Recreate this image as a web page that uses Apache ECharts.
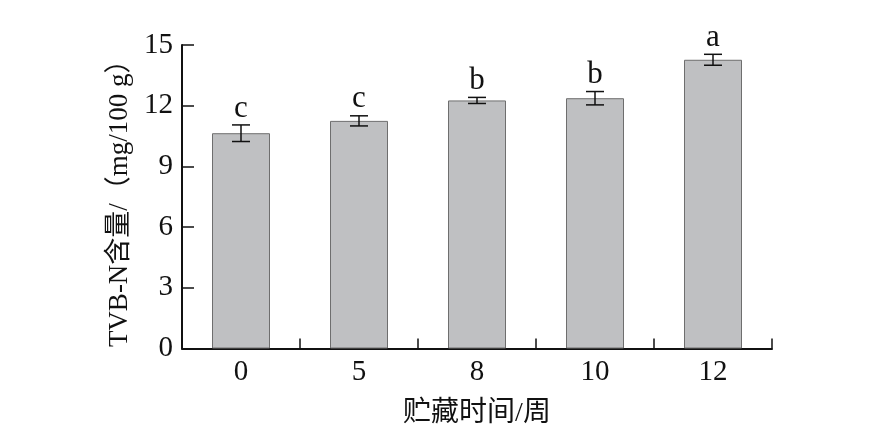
<!DOCTYPE html>
<html>
<head>
<meta charset="utf-8">
<script src="https://cdn.jsdelivr.net/npm/echarts@6/dist/echarts.min.js"></script>
<style>
html,body{margin:0;padding:0;background:#fff;}
#chart{width:871px;height:442px;}
</style>
</head>
<body>
<div id="chart"></div>
<script>
var categories = ['0', '5', '8', '10', '12'];
var values = [10.64, 11.25, 12.26, 12.37, 14.27];
var errors = [0.41, 0.25, 0.15, 0.33, 0.27];
var letters = ['c', 'c', 'b', 'b', 'a'];
var yTicks = { min: 0, max: 15, interval: 3 };

var FONT = "'Times New Roman', 'Liberation Serif', 'Noto Sans CJK SC', serif";

var chart = echarts.init(document.getElementById('chart'), null, { renderer: 'canvas' });

var errData = values.map(function (v, i) { return [i, v, errors[i], letters[i]]; });

chart.setOption({
  backgroundColor: '#ffffff',
  animation: false,
  grid: { left: 182, right: 99, top: 45, bottom: 93.5, containLabel: false },
  xAxis: {
    type: 'category',
    data: categories,
    boundaryGap: true,
    name: '贮藏时间/周',
    nameLocation: 'middle',
    nameGap: 51,
    nameTextStyle: { fontFamily: FONT, fontSize: 28, color: '#111' },
    axisLine: { show: true, lineStyle: { color: '#111', width: 2 } },
    axisTick: { show: true, inside: true, length: 10, alignWithLabel: false, lineStyle: { color: '#111', width: 1.5 } },
    axisLabel: { fontFamily: FONT, fontSize: 29, color: '#111', margin: 9 },
    splitLine: { show: false }
  },
  yAxis: {
    type: 'value',
    min: yTicks.min,
    max: yTicks.max,
    interval: yTicks.interval,
    name: 'TVB-N含量/（mg/100 g）',
    nameLocation: 'middle',
    nameGap: 49,
    nameRotate: 90,
    nameTextStyle: { fontFamily: FONT, fontSize: 27, color: '#111' },
    axisLine: { show: true, lineStyle: { color: '#111', width: 2 } },
    axisTick: { show: true, inside: true, length: 12, lineStyle: { color: '#111', width: 1.5 } },
    axisLabel: { fontFamily: FONT, fontSize: 29, color: '#111', margin: 9 },
    splitLine: { show: false }
  },
  series: [
    {
      type: 'bar',
      data: values,
      barWidth: 58,
      itemStyle: { color: '#bfc0c2', borderColor: '#6e6e6e', borderWidth: 1 },
      z: 2
    },
    {
      type: 'custom',
      data: errData,
      z: 5,
      renderItem: function (params, api) {
        var i = api.value(0), v = api.value(1), e = api.value(2);
        var top = api.coord([i, v + e]);
        var bot = api.coord([i, v - e]);
        var hw = 9;
        var style = { stroke: '#111', lineWidth: 1.5 };
        return {
          type: 'group',
          children: [
            { type: 'line', shape: { x1: top[0], y1: top[1], x2: bot[0], y2: bot[1] }, style: style },
            { type: 'line', shape: { x1: top[0] - hw, y1: top[1], x2: top[0] + hw, y2: top[1] }, style: style },
            { type: 'line', shape: { x1: bot[0] - hw, y1: bot[1], x2: bot[0] + hw, y2: bot[1] }, style: style },
            { type: 'text', x: top[0], y: top[1] - 1,
              style: { text: letters[params.dataIndex], fontFamily: FONT, fontSize: 31, fill: '#111', align: 'center', verticalAlign: 'bottom' } }
          ]
        };
      }
    }
  ]
});
</script>
</body>
</html>
